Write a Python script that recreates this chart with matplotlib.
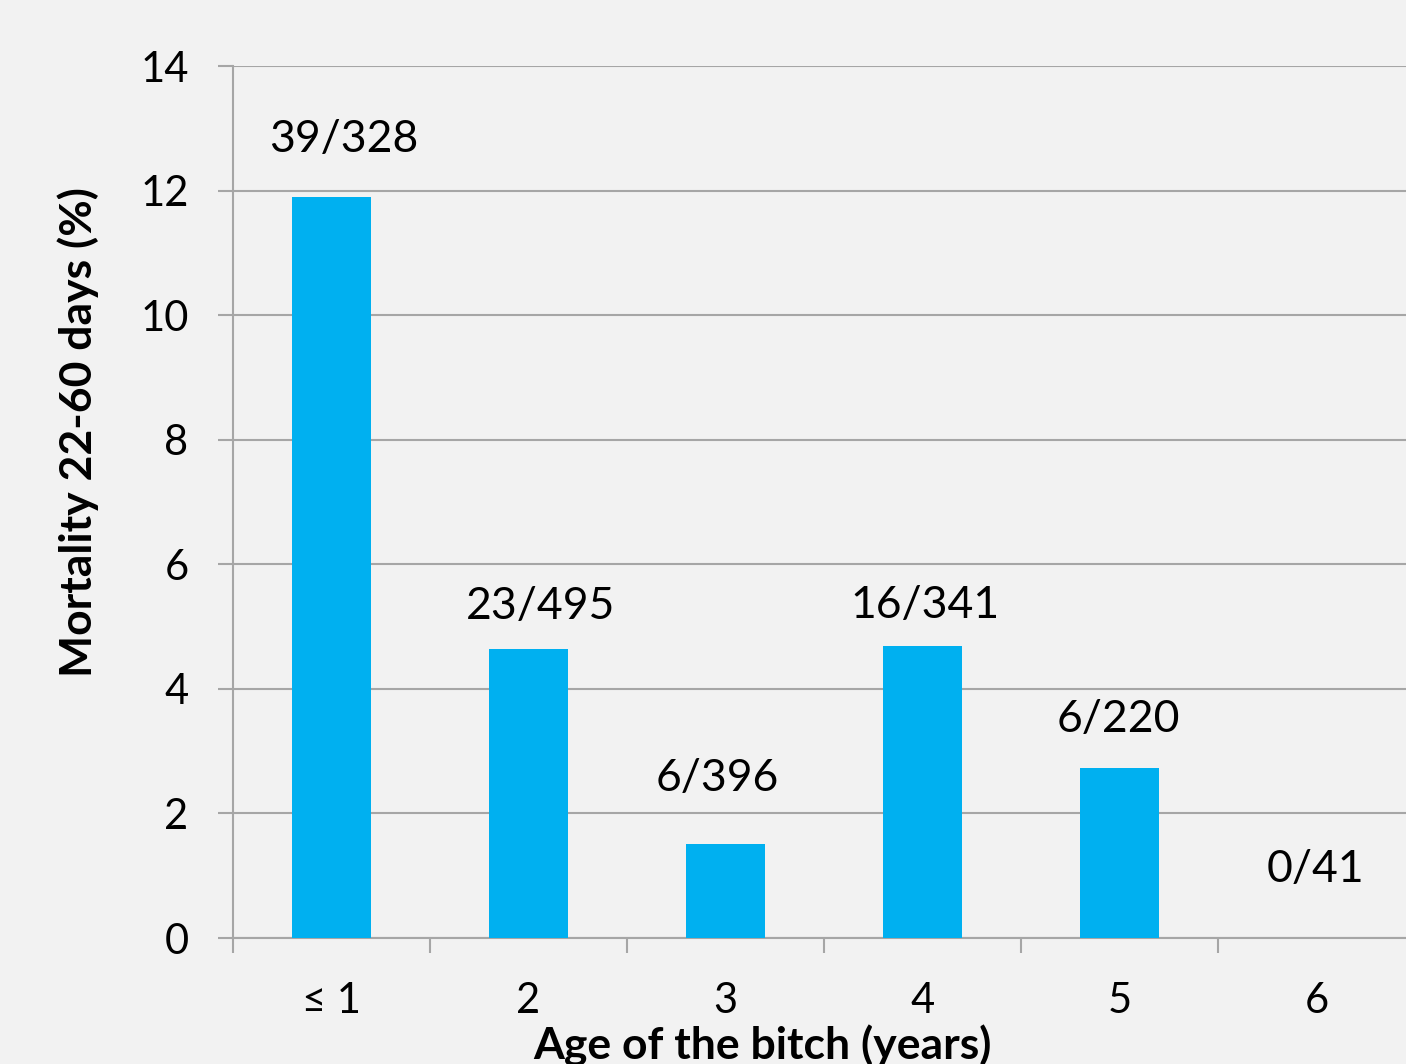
import matplotlib
matplotlib.use("Agg")
import matplotlib.pyplot as plt
import numpy as np

# Puppy deaths between 22 and 60 days, by age of the bitch
categories = ["\u2264 1", "2", "3", "4", "5", "6"]
deaths = [39, 23, 6, 16, 6, 0]
litters_total = [328, 495, 396, 341, 220, 41]
y_ticks = [0, 2, 4, 6, 8, 10, 12, 14]

# label placement relative to each bar top (points)
label_dx = [9, 9, -6, 2, -1, -1]
label_dy = [42, 30, 47, 29, 35, 49]

mortality = [100.0 * d / n for d, n in zip(deaths, litters_total)]

BG = "#f2f2f2"
BAR = "#00b0f0"
GRID = "#a6a6a6"
FONT = ["Lato", "DejaVu Sans"]

plt.rcParams["font.family"] = FONT

fig = plt.figure(figsize=(14.06, 10.64), dpi=100, facecolor=BG)
W, H = 1406, 1064
left, right, top, bottom = 233, 1415, 66, 938
ax = fig.add_axes([left / W, 1 - bottom / H, (right - left) / W, (bottom - top) / H])
ax.set_facecolor(BG)

x = np.arange(len(categories))
ax.bar(x, mortality, width=0.4, color=BAR, zorder=3)

for xi, m, d, n, dx, dy in zip(x, mortality, deaths, litters_total, label_dx, label_dy):
    ax.annotate(f"{d}/{n}", xy=(xi, m), xytext=(dx, dy), textcoords="offset points",
                ha="center", va="center", fontsize=32, color="black")

ax.set_xlim(-0.5, len(categories) - 0.5)
ax.set_ylim(0, 14)
ax.set_yticks(y_ticks)
ax.set_yticklabels([str(t) for t in y_ticks])
ax.set_xticks(x)
ax.set_xticklabels(categories)
ax.set_xticks(np.arange(-0.5, len(categories), 1.0), minor=True)

ax.grid(axis="y", color=GRID, linewidth=1.5, zorder=0)
ax.set_axisbelow(True)
for s in ["top", "right"]:
    ax.spines[s].set_visible(False)
for s in ["left", "bottom"]:
    ax.spines[s].set_color(GRID)
    ax.spines[s].set_linewidth(1.5)

ax.tick_params(axis="y", which="major", length=11, width=1.5, color=GRID,
               labelsize=30, pad=21)
ax.tick_params(axis="x", which="major", length=0, labelsize=30, pad=32)
ax.tick_params(axis="x", which="minor", length=11, width=1.5, color=GRID)

fig.text(762 / W, 1 - 1046 / H, "Age of the bitch (years)", ha="center", va="center",
         fontsize=32, fontweight="bold")
fig.text(78 / W, 1 - 432 / H, "Mortality 22-60 days (%)", ha="center", va="center",
         rotation=90, fontsize=32, fontweight="bold")

fig.savefig("out.png", dpi=100, facecolor=BG)
